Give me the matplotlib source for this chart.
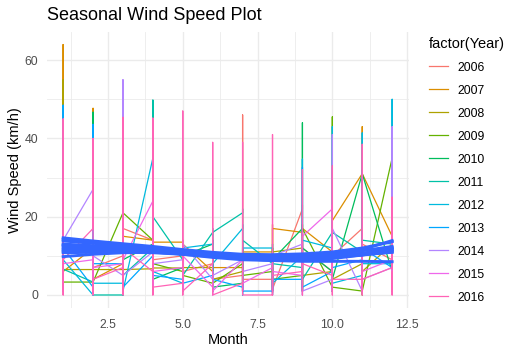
"""Seasonal wind speed by month, one line per year, with smoothed trends."""

import matplotlib
matplotlib.use("Agg")
import matplotlib.pyplot as plt
from matplotlib.lines import Line2D
from matplotlib.ticker import FixedLocator

plt.rcParams["font.family"] = ["Liberation Sans", "DejaVu Sans"]

years = [2006, 2007, 2008, 2009, 2010, 2011, 2012, 2013, 2014, 2015, 2016]
months = [1, 2, 3, 4, 5, 6, 7, 8, 9, 10, 11, 12]
year_colors = ["#F8766D", "#DB8E00", "#AEA200", "#64B200", "#00BD5C", "#00C1A7",
               "#00BADE", "#00A6FF", "#B385FF", "#EF67EB", "#FF63B6"]

# wind speed on the first and last day of each month (rows = years)
first_day = [
    [8, 14, 10, 14, 10, 8, 5, 4, 22, 6, 17, 9],
    [7, 12, 8, 14, 13.5, 6, 7, 11, 16, 11, 31, 15],
    [6.5, 6.5, 6.5, 6.7, 6.9, 7, 6, 10, 12, 6, 8, 13],
    [3.3, 3.3, 21, 14, 6, 3, 8, 6, 5, 2, 1, 35],
    [10, 14, 11, 13, 7, 13, 3, 9, 17, 6, 31, 6],
    [6.6, 3.3, 0, 12, 9, 16, 21, 8, 7, 16, 11, 13],
    [12, 0, 3, 35, 3, 13, 17, 12, 10, 12, 5, 8],
    [15, 2, 8, 10, 4, 5, 2, 1, 4, 6, 9, 7],
    [14, 27, 5, 11, 9, 4, 9, 8, 13, 4, 1, 7],
    [7, 9, 8, 24, 7, 2, 9, 7, 5, 22, 11, 9],
    [6, 17, 7, 6, 3, 8, 3, 0, 6, 5, 4, 7],
]
last_day = [
    [11, 7, 17, 9, 6, 4, 4, 1.5, 12, 10, 13, 8],
    [6, 4, 15, 13.5, 13, 7, 11, 17, 17, 19, 31, 12],
    [6.5, 6.5, 6.5, 6.9, 7, 4, 9, 11, 5, 4, 6, 9],
    [3.3, 3.3, 21, 8, 5, 3, 5, 4, 17, 2, 1, 10],
    [11, 14, 9, 4, 10, 2, 9, 9, 12, 4, 31, 8],
    [6.6, 0, 5, 20, 5, 16, 14, 8, 4, 16, 14, 8],
    [9, 3, 1, 6, 12, 8, 12, 3, 14, 3, 8, 5],
    [12, 8, 2, 5, 3, 4, 1, 4, 2, 7, 12, 6],
    [14, 10, 5, 8, 13, 5, 6, 10, 1, 17, 4, 8],
    [8, 7, 9, 6, 10, 1, 3, 6, 15, 11, 6, 10],
    [9, 4, 12, 2, 1, 0, 0, 5, 8, 4, 4, 6],
]
# highest and lowest daily speed in each month
month_max = [
    [16, 15, 18, 16, 12, 10, 46, 8, 23, 12, 18, 12],
    [64, 47.7, 16, 15, 14, 9, 12, 18, 18, 20, 43, 31],
    [55, 8, 8, 8, 8, 8, 10, 12, 13, 7, 9, 14],
    [5, 5, 22, 15, 8, 5, 9, 7, 18, 45.5, 3, 36],
    [12, 46.7, 12, 14, 11, 14, 10, 12, 44, 7, 32, 9],
    [8, 5, 6, 49.8, 10, 17, 22, 10, 8, 17, 15, 14],
    [13, 5, 4, 36, 13, 14, 18, 13, 34.7, 43, 41.4, 50],
    [48.5, 43.6, 9, 11, 5, 6, 3, 5, 32.6, 8, 13, 8],
    [15, 28, 55, 12, 14, 6, 10, 11, 14, 41, 5, 43],
    [9, 10, 10, 25, 11, 3, 10, 8, 16, 23, 12, 11],
    [45, 40, 45.4, 45.2, 47, 39, 39, 41, 32, 33, 38.5, 25],
]
month_min = [
    [2, 1, 3, 2, 1, 1, 1, 0.5, 2, 1, 2, 1],
    [1, 1, 2, 1, 2, 1, 2, 1, 2, 1, 1, 2],
    [2, 1, 1, 2, 1, 1, 1, 2, 1, 1, 2, 1],
    [1, 2, 1, 1, 1, 1, 2, 1, 1, 1, 0, 2],
    [1, 2, 1, 1, 2, 1, 1, 2, 1, 1, 1, 1],
    [1, 0, 0, 1, 1, 2, 1, 1, 1, 2, 1, 1],
    [1, 0, 0.5, 1, 1, 1, 1, 1, 1, 1, 1, 1],
    [1, 1, 1, 1, 1, 1, 0, 0, 1, 1, 1, 1],
    [1, 1, 1, 1, 1, 1, 1, 1, 0, 1, 1, 1],
    [1, 1, 1, 1, 1, 0, 1, 1, 1, 1, 1, 1],
    [0, 0, 0, 0, 0, 0, 0, 0, 0, 0, 0, 0],
]
# smoothed trend (loess) per year, read at each month
smooth_speed = [
    [13.0, 12.6, 12.2, 11.8, 11.2, 10.6, 10.2, 10.0, 10.1, 10.5, 11.3, 12.4],
    [14.6, 13.8, 13.1, 12.4, 11.6, 10.9, 10.4, 10.3, 10.5, 11.0, 12.0, 13.6],
    [12.0, 11.9, 11.7, 11.4, 11.0, 10.5, 10.1, 9.9, 9.9, 10.1, 10.6, 11.3],
    [11.2, 11.3, 11.3, 11.1, 10.7, 10.2, 9.8, 9.6, 9.7, 10.0, 10.6, 11.6],
    [13.8, 13.2, 12.6, 12.0, 11.3, 10.6, 10.1, 9.8, 9.9, 10.4, 11.6, 13.9],
    [12.5, 12.2, 11.9, 11.5, 11.0, 10.4, 9.9, 9.6, 9.6, 9.8, 10.3, 10.9],
    [10.8, 10.9, 10.9, 10.8, 10.4, 9.8, 9.3, 9.1, 9.2, 9.6, 10.2, 11.0],
    [14.2, 13.4, 12.7, 12.0, 11.2, 10.4, 9.7, 9.3, 9.2, 9.5, 10.4, 12.0],
    [9.8, 10.4, 10.8, 10.9, 10.6, 10.0, 9.3, 8.8, 8.6, 8.6, 8.6, 8.5],
    [12.8, 12.4, 12.0, 11.5, 10.9, 10.2, 9.6, 9.3, 9.3, 9.7, 10.6, 12.0],
    [11.6, 11.6, 11.4, 11.0, 10.4, 9.6, 9.0, 8.8, 8.9, 9.3, 10.2, 11.6],
]

TEXT = "#000000"
TICK = "#4D4D4D"
GRID = "#EBEBEB"


def year_path(i):
    """Daily path for one year: all days of a month share the same x."""
    xs, ys = [], []
    for m, month in enumerate(months):
        xs += [month] * 4
        ys += [first_day[i][m], month_max[i][m], month_min[i][m], last_day[i][m]]
    return xs, ys


fig = plt.figure(figsize=(5.23, 3.53), dpi=100)
ax = fig.add_axes([46.7 / 523, 1 - 307.5 / 353, (408.6 - 46.7) / 523, (307.5 - 32) / 353])

for i, year in enumerate(years):
    xs, ys = year_path(i)
    ax.plot(xs, ys, color=year_colors[i], linewidth=0.9, label=str(year),
            solid_joinstyle="round", solid_capstyle="butt")

for i in range(len(years)):
    ax.plot(months, smooth_speed[i], color="#3366FF", linewidth=2.1,
            solid_joinstyle="round")

ax.margins(x=0.05, y=0.05)
ax.xaxis.set_major_locator(FixedLocator([2.5, 5.0, 7.5, 10.0, 12.5]))
ax.xaxis.set_minor_locator(FixedLocator([1.25, 3.75, 6.25, 8.75, 11.25]))
ax.yaxis.set_major_locator(FixedLocator([0, 20, 40, 60]))
ax.yaxis.set_minor_locator(FixedLocator([10, 30, 50]))
ax.set_xticklabels(["2.5", "5.0", "7.5", "10.0", "12.5"])
ax.grid(True, which="major", color=GRID, linewidth=1.0)
ax.grid(True, which="minor", color=GRID, linewidth=0.6)
ax.set_axisbelow(True)
for spine in ax.spines.values():
    spine.set_visible(False)
ax.tick_params(which="both", length=0, labelsize=8.8, labelcolor=TICK)
ax.tick_params(axis="x", pad=8)
ax.tick_params(axis="y", pad=6)

ax.set_xlabel("Month", fontsize=10.5, color=TEXT, labelpad=2)
ax.set_ylabel("Wind Speed (km/h)", fontsize=10.5, color=TEXT, labelpad=2)
fig.text(46.7 / 523, 1 - 15 / 353, "Seasonal Wind Speed Plot", fontsize=13,
         color=TEXT, ha="left", va="center")

handles = [Line2D([], [], color=c, linewidth=0.9) for c in year_colors]
fig.legend(handles, [str(y) for y in years], title="factor(Year)",
           loc="upper left", bbox_to_anchor=(425 / 523, 1 - 33 / 353),
           frameon=False, fontsize=8.8, title_fontsize=10.5,
           handlelength=1.6, handletextpad=0.75, labelspacing=0.9,
           alignment="left", borderaxespad=0, borderpad=0.3)

fig.savefig("out.png", dpi=100)
